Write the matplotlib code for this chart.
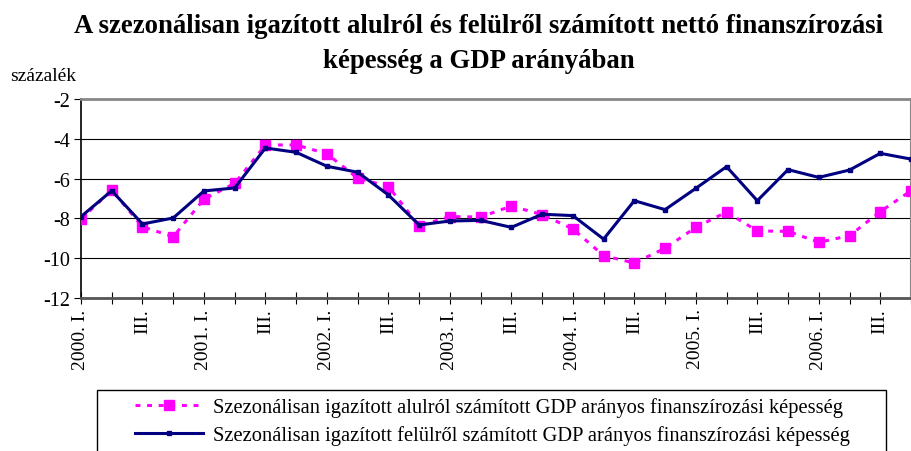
import numpy as np
import matplotlib
matplotlib.use("Agg")
import matplotlib.pyplot as plt
from matplotlib.patches import Rectangle
from matplotlib.lines import Line2D

# quarterly data, 2000 Q1 .. 2006 Q4 (percent of GDP)
quarters = [f"{y}. {q}" for y in range(2000, 2007) for q in ["I.", "II.", "III.", "IV."]]
tick_labels = []
for i, q in enumerate(quarters):
    if q.endswith(" I."):
        tick_labels.append(q)
    elif q.endswith("III."):
        tick_labels.append("III.")
    else:
        tick_labels.append("")

bottom_up = [-8.03, -6.58, -8.42, -8.92, -7.03, -6.24, -4.31, -4.31,
             -4.75, -5.98, -6.40, -8.37, -7.91, -7.93, -7.38, -7.81,
             -8.53, -9.87, -10.24, -9.50, -8.45, -7.68, -8.63, -8.65,
             -9.20, -8.87, -7.66, -6.61]
top_down = [-7.91, -6.61, -8.28, -7.98, -6.62, -6.47, -4.46, -4.68,
            -5.38, -5.68, -6.82, -8.33, -8.13, -8.10, -8.45, -7.79,
            -7.86, -9.04, -7.11, -7.56, -6.49, -5.40, -7.11, -5.55,
            -5.94, -5.57, -4.73, -5.02]

label_bottom = "Szezonálisan igazított alulról számított GDP arányos finanszírozási képesség"
label_top = "Szezonálisan igazított felülről számított GDP arányos finanszírozási képesség"
title_lines = ["A szezonálisan igazított alulról és felülről számított nettó finanszírozási",
               "képesség a GDP arányában"]

plt.rcParams["font.family"] = ["Liberation Serif", "DejaVu Serif"]

W, H = 912, 452
fig = plt.figure(figsize=(W / 100, H / 100), dpi=100)
ax = fig.add_axes([81 / W, 1 - 299 / H, (911 - 81) / W, (299 - 100) / H])

x = np.arange(len(quarters))
ax.plot(x, bottom_up, color="#ff00ff", lw=2.2, dashes=(1.6, 2.2),
        marker="s", ms=6.5, mec="#ff00ff", mfc="#ff00ff", zorder=3)
ax.plot(x, top_down, color="#000080", lw=2.2,
        marker="s", ms=3.5, mec="#000080", mfc="#000080", zorder=4)

ax.set_xlim(0, len(quarters) - 1)
ax.set_ylim(-12, -2)
ax.set_yticks(np.arange(-12, -1, 2))
ax.set_yticklabels([str(v) for v in range(-12, -1, 2)], fontsize=14.5)
ax.set_xticks(x)
ax.set_xticklabels(tick_labels, rotation=90, fontsize=14)
ax.tick_params(axis="x", direction="inout", length=9, width=0.8, pad=3)
ax.tick_params(axis="y", direction="out", length=5, width=0.8, pad=3)
ax.yaxis.grid(True, color="black", lw=0.8)
ax.set_axisbelow(True)
ax.spines["left"].set_color("black")
ax.spines["left"].set_linewidth(1.2)
ax.spines["bottom"].set_color("#555555")
ax.spines["bottom"].set_linewidth(2)
ax.spines["top"].set_color("#888888")
ax.spines["top"].set_linewidth(2)
ax.spines["right"].set_color("#888888")
ax.spines["right"].set_linewidth(1.5)

for line, base in zip(title_lines, [33, 68]):
    fig.text(479 / W, 1 - base / H, line, ha="center", va="baseline",
             fontsize=19.3, fontweight="bold")
fig.text(10 / W, 1 - 81 / H, "százalék", ha="left", va="baseline", fontsize=14)

# legend box (bottom runs off the figure like the original)
fig.patches.append(Rectangle((97 / W, -0.1), (886 - 97) / W, 0.1 + 1 - 391 / H,
                             transform=fig.transFigure, fill=False,
                             edgecolor="black", lw=1, clip_on=False))
handles = [
    Line2D([], [], color="#ff00ff", lw=2.2, dashes=(1.6, 2.2), marker="s",
           ms=6.5, mec="#ff00ff", mfc="#ff00ff"),
    Line2D([], [], color="#000080", lw=2.2, marker="s", ms=3.5,
           mec="#000080", mfc="#000080"),
]
fig.legend(handles, [label_bottom, label_top], loc="upper left",
           bbox_to_anchor=(135 / W, 1 - 398 / H), frameon=False, fontsize=14.8,
           handlelength=3.3, handletextpad=0.5, labelspacing=0.42,
           borderpad=0, borderaxespad=0)

fig.savefig("out.png", dpi=100)
